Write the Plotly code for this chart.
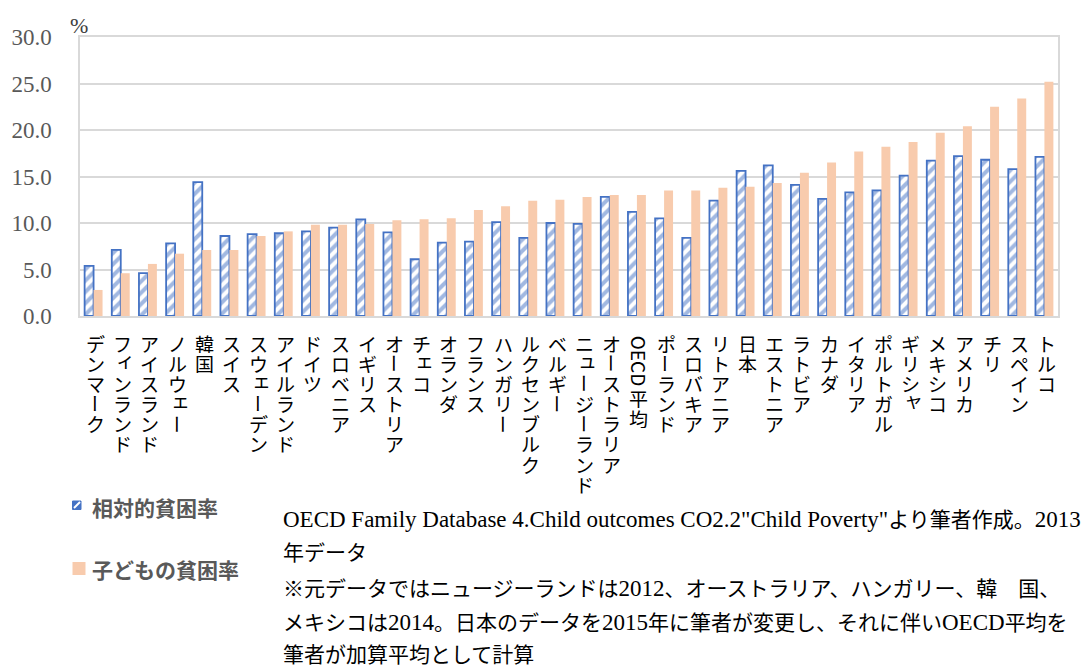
import re
import plotly.graph_objects as go

countries = ["デンマーク", "フィンランド", "アイスランド", "ノルウェー", "韓国", "スイス",
             "スウェーデン", "アイルランド", "ドイツ", "スロベニア", "イギリス", "オーストリア",
             "チェコ", "オランダ", "フランス", "ハンガリー", "ルクセンブルク", "ベルギー",
             "ニュージーランド", "オーストラリア", "OECD平均", "ポーランド", "スロバキア",
             "リトアニア", "日本", "エストニア", "ラトビア", "カナダ", "イタリア", "ポルトガル",
             "ギリシャ", "メキシコ", "アメリカ", "チリ", "スペイン", "トルコ"]

relative_poverty = [5.4, 7.1, 4.6, 7.8, 14.4, 8.6, 8.8, 8.9, 9.1, 9.5, 10.4, 9.0,
                    6.1, 7.9, 8.0, 10.1, 8.4, 10.0, 9.9, 12.8, 11.2, 10.5, 8.4,
                    12.4, 15.6, 16.2, 14.1, 12.6, 13.3, 13.5, 15.1, 16.7, 17.2, 16.8, 15.8, 17.1]

child_poverty = [2.8, 4.6, 5.6, 6.7, 7.1, 7.1, 8.6, 9.1, 9.8, 9.8, 9.9, 10.3,
                 10.4, 10.5, 11.4, 11.8, 12.4, 12.5, 12.8, 13.0, 13.0, 13.5, 13.5,
                 13.8, 13.9, 14.3, 15.4, 16.5, 17.7, 18.2, 18.7, 19.7, 20.4, 22.5, 23.4, 25.2]

series_names = ["相対的貧困率", "子どもの貧困率"]
y_unit = "%"
y_ticks = [0, 5, 10, 15, 20, 25, 30]

source_lines = [
    'OECD Family Database 4.Child outcomes CO2.2"Child Poverty"より筆者作成。2013',
    "年データ",
    "※元データではニュージーランドは2012、オーストラリア、ハンガリー、韓　国、",
    "メキシコは2014。日本のデータを2015年に筆者が変更し、それに伴いOECD平均を",
    "筆者が加算平均として計算",
]

BLUE = "#4472C4"
ORANGE = "#F8CBAD"

W, H = 1091, 667
L, R, T, B = 80, 33, 37, 351
PH = H - T - B  # plot height in px
PW = W - L - R


def py_to_paper(py):
    return (H - B - py) / PH


def px_to_paper(px):
    return (px - L) / PW


fig = go.Figure()
fig.add_trace(go.Bar(
    x=countries, y=relative_poverty, name=series_names[0],
    marker=dict(color="white", line=dict(color=BLUE, width=1.8),
                pattern=dict(shape="/", fgcolor=BLUE, bgcolor="white",
                             size=8, solidity=0.5)),
))
fig.add_trace(go.Bar(
    x=countries, y=child_poverty, name=series_names[1],
    marker=dict(color=ORANGE, line=dict(width=0)),
))

# vertical category labels (one annotation per character)
small_kana = set("ィェッュャァォ")
row_h = 20.2
row0 = 343
annotations = []
for name in countries:
    tokens = []
    if name.startswith("OECD"):
        tokens.append(("OECD", 2.75, 90))
        for ch in name[4:]:
            tokens.append((ch, 1, 0))
    else:
        for ch in name:
            tokens.append((ch, 1, 90 if ch == "ー" else 0))
    r = 0.0
    for tok, span, ang in tokens:
        cy = row0 + row_h * (r + (span - 1) / 2)
        xs, ys = 2, 0
        if tok in small_kana:
            xs, ys = 5, 4
        annotations.append(dict(
            x=name, xref="x", y=py_to_paper(cy), yref="paper",
            text=tok, showarrow=False, textangle=ang,
            xanchor="center", yanchor="middle", xshift=xs, yshift=ys,
            height=19 if span == 1 else None,
            font=dict(family="Noto Sans CJK JP", size=19, color="black"),
        ))
        r += span

# unit label
annotations.append(dict(
    x=px_to_paper(79), xref="paper", y=py_to_paper(26), yref="paper",
    text=y_unit, showarrow=False, xanchor="center", yanchor="middle",
    font=dict(family="Liberation Serif", size=22, color="#404040"),
))

# legend (drawn manually)
legend_y = [507, 569]
for nm, ly in zip(series_names, legend_y):
    annotations.append(dict(
        x=px_to_paper(90), xref="paper", y=py_to_paper(ly), yref="paper",
        text=nm, showarrow=False, xanchor="left", yanchor="middle",
        font=dict(family="Noto Sans CJK JP", size=21, color="#595959", weight="bold"),
    ))

shapes = [
    dict(type="rect", xref="paper", yref="paper",
         x0=px_to_paper(72.5), x1=px_to_paper(81), y0=py_to_paper(509.5), y1=py_to_paper(501),
         fillcolor=BLUE, line=dict(color=BLUE, width=1)),
    dict(type="line", xref="paper", yref="paper",
         x0=px_to_paper(74), x1=px_to_paper(80), y0=py_to_paper(508), y1=py_to_paper(502),
         line=dict(color="white", width=2)),
    dict(type="rect", xref="paper", yref="paper",
         x0=px_to_paper(72.5), x1=px_to_paper(85.5), y0=py_to_paper(575), y1=py_to_paper(562),
         fillcolor=ORANGE, line=dict(width=0)),
]


def latin_big(txt):
    return re.sub(r'([\x21-\x7e][\x20-\x7e]*[\x21-\x7e]|[\x21-\x7e])',
                  r'<span style="font-size:23px">\1</span>', txt)


# source notes
line_y = [519, 553, 588, 622, 655]
for txt, ly in zip(source_lines, line_y):
    annotations.append(dict(
        x=px_to_paper(281), xref="paper", y=py_to_paper(ly), yref="paper",
        text=latin_big(txt), showarrow=False, xanchor="left", yanchor="middle",
        font=dict(family="Liberation Serif, Noto Sans CJK JP", size=21, color="black"),
    ))

fig.update_layout(
    width=W, height=H,
    margin=dict(l=L, r=R, t=T, b=B, autoexpand=False),
    plot_bgcolor="white", paper_bgcolor="white",
    barmode="group", bargap=0.34, bargroupgap=0,
    showlegend=False,
    xaxis=dict(
        showticklabels=False, showgrid=False, ticks="",
        showline=True, mirror=True, linecolor="#D9D9D9", linewidth=1.5,
        range=[-0.5, len(countries) - 0.5],
    ),
    yaxis=dict(
        range=[0, 30], tickvals=y_ticks, tickformat=".1f",
        showgrid=True, gridcolor="#D9D9D9", gridwidth=1.5,
        showline=True, mirror=True, linecolor="#D9D9D9", linewidth=1.5,
        zeroline=False,
        ticks="outside", ticklen=22, tickcolor="rgba(0,0,0,0)",
        tickfont=dict(family="Liberation Serif", size=23, color="#595959"),
    ),
    annotations=annotations,
    shapes=shapes,
)

fig.write_html("out.html", config={"displayModeBar": False},
               post_script="document.body.style.margin='0';")
